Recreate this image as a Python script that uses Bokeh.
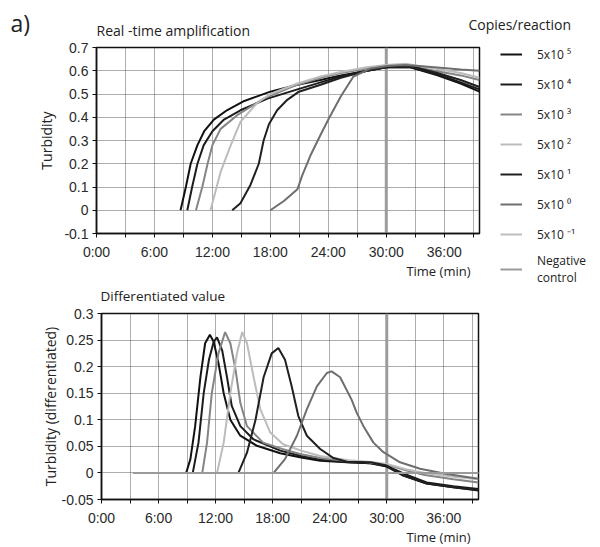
import numpy as np
from bokeh.plotting import figure
from bokeh.models import FixedTicker, Span, Legend, LegendItem, ColumnDataSource, Range1d, Label
from bokeh.layouts import column, row
from bokeh.embed import file_html
from bokeh.resources import INLINE

# ---------------- data ----------------
series_labels = ["5x10 ⁵", "5x10 ⁴", "5x10 ³", "5x10 ²", "5x10 ¹", "5x10 ⁰", "5x10 ⁻¹", "Negative\ncontrol"]

x_ticks = [0, 3, 6, 9, 12, 15, 18, 21, 24, 27, 30, 33, 36, 39]
x_tick_labels = ["0:00", "", "6:00", "", "12:00", "", "18:00", "", "24:00", "", "30:00", "", "36:00", ""]
top_y_ticks = [-0.1, 0, 0.1, 0.2, 0.3, 0.4, 0.5, 0.6, 0.7]
top_y_labels = ["-0.1", "0", "0.1", "0.2", "0.3", "0.4", "0.5", "0.6", "0.7"]
bot_y_ticks = [-0.05, 0, 0.05, 0.1, 0.15, 0.2, 0.25, 0.3]
bot_y_labels = ["-0.05", "0", "0.05", "0.1", "0.15", "0.2", "0.25", "0.3"]

# Real-time amplification (turbidity)
top_t_5e5 = [8.7, 9.25, 9.75, 10.45, 11.15, 12.15, 13.5, 15.3, 18.0, 20.8, 23.2, 25.3, 28.0, 30.0, 32.5, 35.3, 37.7, 39.65]
top_v_5e5 = [0, 0.10, 0.20, 0.28, 0.34, 0.39, 0.43, 0.47, 0.51, 0.54, 0.56, 0.58, 0.60, 0.615, 0.615, 0.58, 0.545, 0.51]
top_t_5e4 = [9.4, 9.9, 10.45, 11.1, 12.0, 13.2, 14.9, 17.7, 20.8, 23.2, 25.3, 28.0, 30.0, 32.5, 35.3, 37.7, 39.65]
top_v_5e4 = [0, 0.10, 0.20, 0.28, 0.34, 0.39, 0.43, 0.48, 0.52, 0.55, 0.575, 0.60, 0.615, 0.615, 0.585, 0.55, 0.52]
top_t_5e3 = [10.3, 10.95, 11.5, 12.0, 12.85, 14.6, 17.3, 20.8, 23.2, 25.3, 28.0, 30.0, 32.0, 35.0, 37.7, 39.65]
top_v_5e3 = [0, 0.10, 0.20, 0.28, 0.35, 0.41, 0.48, 0.54, 0.57, 0.59, 0.61, 0.62, 0.625, 0.60, 0.58, 0.56]
top_t_5e2 = [11.8, 12.85, 13.9, 14.9, 16.6, 18.0, 20.8, 23.2, 25.3, 28.0, 30.0, 32.0, 35.0, 37.7, 39.65]
top_v_5e2 = [0, 0.165, 0.28, 0.38, 0.46, 0.50, 0.545, 0.575, 0.595, 0.615, 0.625, 0.63, 0.61, 0.59, 0.57]
top_t_5e1 = [14.05, 14.9, 15.95, 16.8, 17.3, 17.85, 18.7, 19.75, 20.95, 23.2, 25.3, 28.0, 30.0, 32.5, 35.3, 37.7, 39.65]
top_v_5e1 = [0, 0.03, 0.11, 0.20, 0.30, 0.37, 0.43, 0.475, 0.51, 0.54, 0.57, 0.60, 0.615, 0.62, 0.59, 0.56, 0.53]
top_t_5e0 = [18.0, 19.4, 20.8, 21.3, 22.2, 23.2, 24.0, 25.3, 26.6, 28.4, 30.1, 32.0, 35.0, 37.7, 39.65]
top_v_5e0 = [0, 0.04, 0.09, 0.15, 0.24, 0.325, 0.39, 0.49, 0.575, 0.61, 0.62, 0.625, 0.615, 0.605, 0.60]
top_t_5em1 = []
top_v_5em1 = []
top_t_neg = []
top_v_neg = []

# Differentiated value
bot_t_5e5 = [8.9, 9.35, 9.85, 10.4, 10.9, 11.4, 11.8, 12.3, 12.85, 13.55, 14.6, 16.35, 18.8, 21.0, 23.0, 25.8, 28.3, 30.0, 31.75, 34.2, 37.0, 39.65]
bot_v_5e5 = [0, 0.026, 0.088, 0.18, 0.244, 0.26, 0.247, 0.207, 0.15, 0.10, 0.07, 0.051, 0.037, 0.029, 0.023, 0.02, 0.018, 0.012, -0.005, -0.02, -0.027, -0.033]
bot_t_5e4 = [9.6, 10.2, 10.75, 11.3, 11.8, 12.15, 12.7, 13.2, 13.7, 14.6, 16.0, 18.8, 21.0, 23.0, 26.0, 28.3, 30.0, 32.0, 34.2, 37.0, 39.65]
bot_v_5e4 = [0, 0.057, 0.15, 0.213, 0.247, 0.255, 0.23, 0.18, 0.126, 0.088, 0.063, 0.042, 0.032, 0.025, 0.02, 0.018, 0.013, -0.003, -0.018, -0.025, -0.03]
bot_t_5e3 = [10.6, 11.1, 11.6, 12.3, 13.0, 13.55, 14.1, 14.6, 15.3, 17.0, 19.0, 21.0, 23.0, 26.0, 28.0, 30.0, 32.0, 34.0, 37.0, 39.65]
bot_v_5e3 = [0, 0.057, 0.15, 0.225, 0.265, 0.244, 0.194, 0.132, 0.088, 0.057, 0.045, 0.035, 0.028, 0.022, 0.02, 0.016, 0.005, -0.004, -0.012, -0.018]
bot_t_5e2 = [12.15, 12.85, 13.55, 14.25, 14.8, 15.3, 16.0, 16.7, 17.75, 19.1, 21.0, 23.0, 26.0, 28.0, 30.0, 32.0, 34.0, 37.0, 39.65]
bot_v_5e2 = [0, 0.057, 0.15, 0.225, 0.265, 0.244, 0.18, 0.12, 0.076, 0.054, 0.042, 0.032, 0.024, 0.021, 0.017, 0.007, 0.0, -0.007, -0.012]
bot_t_5e1 = [14.4, 15.3, 16.2, 17.05, 17.9, 18.6, 19.3, 20.0, 20.7, 21.6, 23.0, 24.4, 25.8, 28.3, 30.0, 31.75, 34.2, 37.0, 39.65]
bot_v_5e1 = [0, 0.038, 0.10, 0.18, 0.225, 0.235, 0.213, 0.163, 0.107, 0.07, 0.045, 0.028, 0.021, 0.02, 0.014, -0.005, -0.02, -0.027, -0.032]
bot_t_5e0 = [18.1, 19.3, 20.55, 21.6, 22.65, 23.7, 24.2, 25.1, 26.3, 26.85, 27.55, 28.6, 29.65, 31.4, 33.5, 36.3, 39.65]
bot_v_5e0 = [0, 0.026, 0.07, 0.12, 0.163, 0.188, 0.191, 0.18, 0.138, 0.113, 0.088, 0.057, 0.039, 0.02, 0.008, -0.002, -0.011]
bot_t_5em1 = [3.3, 39.65]
bot_v_5em1 = [0, 0]
bot_t_neg = [3.3, 39.65]
bot_v_neg = [0, 0]

top_series = [(top_t_5e5, top_v_5e5), (top_t_5e4, top_v_5e4), (top_t_5e3, top_v_5e3), (top_t_5e2, top_v_5e2),
              (top_t_5e1, top_v_5e1), (top_t_5e0, top_v_5e0), (top_t_5em1, top_v_5em1), (top_t_neg, top_v_neg)]
bot_series = [(bot_t_5e5, bot_v_5e5), (bot_t_5e4, bot_v_5e4), (bot_t_5e3, bot_v_5e3), (bot_t_5e2, bot_v_5e2),
              (bot_t_5e1, bot_v_5e1), (bot_t_5e0, bot_v_5e0), (bot_t_5em1, bot_v_5em1), (bot_t_neg, bot_v_neg)]

# ---------------- style ----------------
colors = ["#111111", "#1c1c1c", "#858585", "#bcbcbc", "#202020", "#6e6e6e", "#bdbdbd", "#9a9a9a"]
TEXT_FONT = "Open Sans"
TICK_FONT = "Liberation Sans"
TEXT_COLOR = "#222222"
X_END = 39.65


def make_fig(width, height, left, right, top, bottom, y0, y1, yticks, ylabels, ylabel, ylabel_standoff):
    p = figure(width=width, height=height, x_range=Range1d(0, X_END), y_range=Range1d(y0, y1),
               output_backend="svg", toolbar_location=None, frame_align=False,
               min_border_left=left, min_border_right=right, min_border_top=top, min_border_bottom=bottom)
    p.xaxis.ticker = FixedTicker(ticks=x_ticks)
    p.xaxis.major_label_overrides = {t: lab for t, lab in zip(x_ticks, x_tick_labels)}
    p.yaxis.ticker = FixedTicker(ticks=yticks)
    p.yaxis.major_label_overrides = {t: lab for t, lab in zip(yticks, ylabels)}
    p.grid.grid_line_color = "#5a5a5a"
    p.grid.grid_line_dash = "1 1"
    p.grid.grid_line_width = 1
    p.outline_line_color = "#111111"
    p.outline_line_width = 1.5
    p.axis.axis_line_color = "#111111"
    p.axis.axis_line_width = 1.5
    p.axis.major_tick_out = 4
    p.axis.major_tick_in = 0
    p.axis.minor_tick_out = 0
    p.axis.minor_tick_in = 0
    p.axis.major_tick_line_color = "#111111"
    p.axis.major_label_text_font = TICK_FONT
    p.axis.major_label_text_font_size = "14px"
    p.axis.major_label_text_color = "#2a2a2a"
    p.xaxis.major_label_standoff = 6
    p.yaxis.major_label_standoff = 4
    p.yaxis.axis_label = ylabel
    p.yaxis.axis_label_text_font = TEXT_FONT
    p.yaxis.axis_label_text_font_size = "14px"
    p.yaxis.axis_label_text_font_style = "normal"
    p.yaxis.axis_label_text_color = TEXT_COLOR
    p.yaxis.axis_label_standoff = ylabel_standoff
    p.add_layout(Span(location=30, dimension="height", line_color="#9c9c9c", line_width=3, level="underlay"))
    return p


def strip(width, height):
    # a plain text panel: its frame is the whole canvas, in pixel units from the top-left
    s = figure(width=width, height=height, x_range=Range1d(0, width), y_range=Range1d(height, 0),
               x_axis_type=None, y_axis_type=None, output_backend="svg", toolbar_location=None,
               frame_align=False, min_border=0, outline_line_color=None)
    s.grid.visible = False
    return s


def add_text(p, x, y, text, size, align="left"):
    p.add_layout(Label(x=x, y=y, text=text, text_font=TEXT_FONT, text_font_size=size,
                       text_color=TEXT_COLOR, text_align=align, text_baseline="middle"))


# top strip: panel letter, first title, legend title
strip_a = strip(600, 39)
add_text(strip_a, 10, 22.5, "a)", "23px")
add_text(strip_a, 96, 29.5, "Real -time amplification", "14px")
add_text(strip_a, 468, 23.5, "Copies/reaction", "14px")

# top chart
p1 = make_fig(481, 223, 96, 2, 8, 26, -0.1, 0.7, top_y_ticks, top_y_labels, "Turbidity", 5)
for (t, v), c in zip(top_series, colors):
    p1.line(x="t", y="v", source=ColumnDataSource(dict(t=t, v=v)), line_color=c, line_width=2)

# strip between the charts
strip_b = strip(481, 43)
add_text(strip_b, 470, 8.5, "Time (min)", "13px", align="right")
add_text(strip_b, 100, 33.8, "Differentiated value", "13.5px")

# legend panel (legend proxies carry no visible points)
p_leg = strip(119, 266)
leg_renderers = [p_leg.line(x=np.array([np.nan]), y=np.array([np.nan]), line_color=c, line_width=2) for c in colors]
legend = Legend(items=[LegendItem(label=lab, renderers=[r]) for lab, r in zip(series_labels, leg_renderers)],
                location=(19, 19), padding=0, margin=0, spacing=6,
                glyph_width=22, glyph_height=24, label_standoff=15, label_height=24,
                label_text_font=TEXT_FONT, label_text_font_size="12px", label_text_color=TEXT_COLOR,
                border_line_color=None, background_fill_alpha=0)
p_leg.add_layout(legend)

# bottom chart
p2 = make_fig(600, 223, 101, 122, 8, 27, -0.05, 0.3, bot_y_ticks, bot_y_labels, "Turbidity (differentiated)", -1)
for (t, v), c in zip(bot_series, colors):
    p2.line(x="t", y="v", source=ColumnDataSource(dict(t=t, v=v)), line_color=c, line_width=2)

strip_c = strip(600, 19)
add_text(strip_c, 470, 8.5, "Time (min)", "13px", align="right")

layout = column(strip_a, row(column(p1, strip_b), p_leg), p2, strip_c)
open("out.html", "w").write(file_html(layout, INLINE))
